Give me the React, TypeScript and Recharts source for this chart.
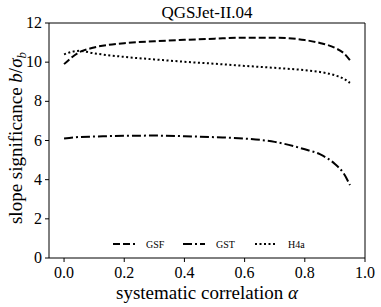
import { LineChart, Line, XAxis, YAxis, ReferenceArea, Label } from "recharts";

const alpha = [0, 0.05, 0.1, 0.2, 0.3, 0.4, 0.5, 0.6, 0.7, 0.8, 0.85, 0.9, 0.93, 0.95];
const gsf = [9.9, 10.5, 10.75, 10.97, 11.07, 11.14, 11.2, 11.25, 11.25, 11.13, 10.98, 10.73, 10.45, 10.1];
const gst = [6.1, 6.18, 6.2, 6.24, 6.25, 6.22, 6.17, 6.1, 5.93, 5.55, 5.3, 4.8, 4.3, 3.72];
const h4a = [10.4, 10.58, 10.45, 10.27, 10.14, 10.02, 9.92, 9.81, 9.71, 9.59, 9.5, 9.33, 9.15, 8.94];

const xTicks = [0, 0.2, 0.4, 0.6, 0.8, 1.0];
const yTicks = [0, 2, 4, 6, 8, 10, 12];

const series = [
  { key: "gsf", name: "GSF", dash: "7 3" },
  { key: "gst", name: "GST", dash: "9 3 2 3" },
  { key: "h4a", name: "H4a", dash: "2 2.5" },
];

const data = alpha.map((a, i) => ({ a, gsf: gsf[i], gst: gst[i], h4a: h4a[i] }));

const font = "Liberation Serif";

function LegendSvg() {
  const xs = [113, 183, 255];
  return (
    <g>
      {series.map((s, i) => (
        <g key={s.key}>
          <line x1={xs[i]} y1={244} x2={xs[i] + 22} y2={244} stroke="#000" strokeWidth={2} strokeDasharray={s.dash} />
          <text x={xs[i] + 33} y={247.5} fill="#000" fontSize={10} fontFamily={font}>
            {s.name}
          </text>
        </g>
      ))}
    </g>
  );
}

export default function App() {
  return (
    <div style={{ position: "absolute", left: 0, top: 0, background: "#fff" }}>
      <LineChart width={381} height={307} data={data} margin={{ top: 23, right: 16, left: 9, bottom: 19 }}>
        <text x={207} y={18} textAnchor="middle" fill="#000" fontSize={17} fontFamily={font}>
          QGSJet-II.04
        </text>
        <XAxis
          type="number"
          dataKey="a"
          domain={[-0.05, 1.0]}
          ticks={xTicks}
          height={30}
          axisLine={false}
          tickLine={{ stroke: "#000" }}
          tickSize={4}
          tick={(p: any) => (
            <text x={p.x} y={p.y + 14} textAnchor="middle" fill="#000" fontSize={16} fontFamily={font}>
              {Number(p.payload.value).toFixed(1)}
            </text>
          )}
          allowDataOverflow
        >
          <Label
            content={() => (
              <text x={207} y={299} textAnchor="middle" fill="#000" fontSize={19} fontFamily={font}>
                systematic correlation <tspan fontStyle="italic">α</tspan>
              </text>
            )}
          />
        </XAxis>
        <YAxis
          type="number"
          domain={[0, 12]}
          ticks={yTicks}
          width={40}
          axisLine={false}
          tickLine={{ stroke: "#000" }}
          tickSize={4}
          tick={(p: any) => (
            <text x={p.x - 1} y={p.y + 5} textAnchor="end" fill="#000" fontSize={16} fontFamily={font}>
              {p.payload.value}
            </text>
          )}
        >
          <Label
            content={() => (
              <text
                x={0}
                y={0}
                transform="translate(22,138) rotate(-90)"
                textAnchor="middle"
                fill="#000"
                fontSize={19}
                fontFamily={font}
              >
                slope significance <tspan fontStyle="italic">b</tspan>/<tspan fontStyle="italic">σ</tspan>
                <tspan fontStyle="italic" fontSize={13} dy={4}>b</tspan>
              </text>
            )}
          />
        </YAxis>
        <ReferenceArea x1={-0.05} x2={1.0} y1={0} y2={12} fill="none" stroke="#000" strokeWidth={1} ifOverflow="visible" />
        {series.map((s) => (
          <Line
            key={s.key}
            dataKey={s.key}
            name={s.name}
            type="monotone"
            stroke="#000"
            strokeWidth={2}
            strokeDasharray={s.dash}
            dot={false}
            isAnimationActive={false}
          />
        ))}
        <LegendSvg />
      </LineChart>
    </div>
  );
}
